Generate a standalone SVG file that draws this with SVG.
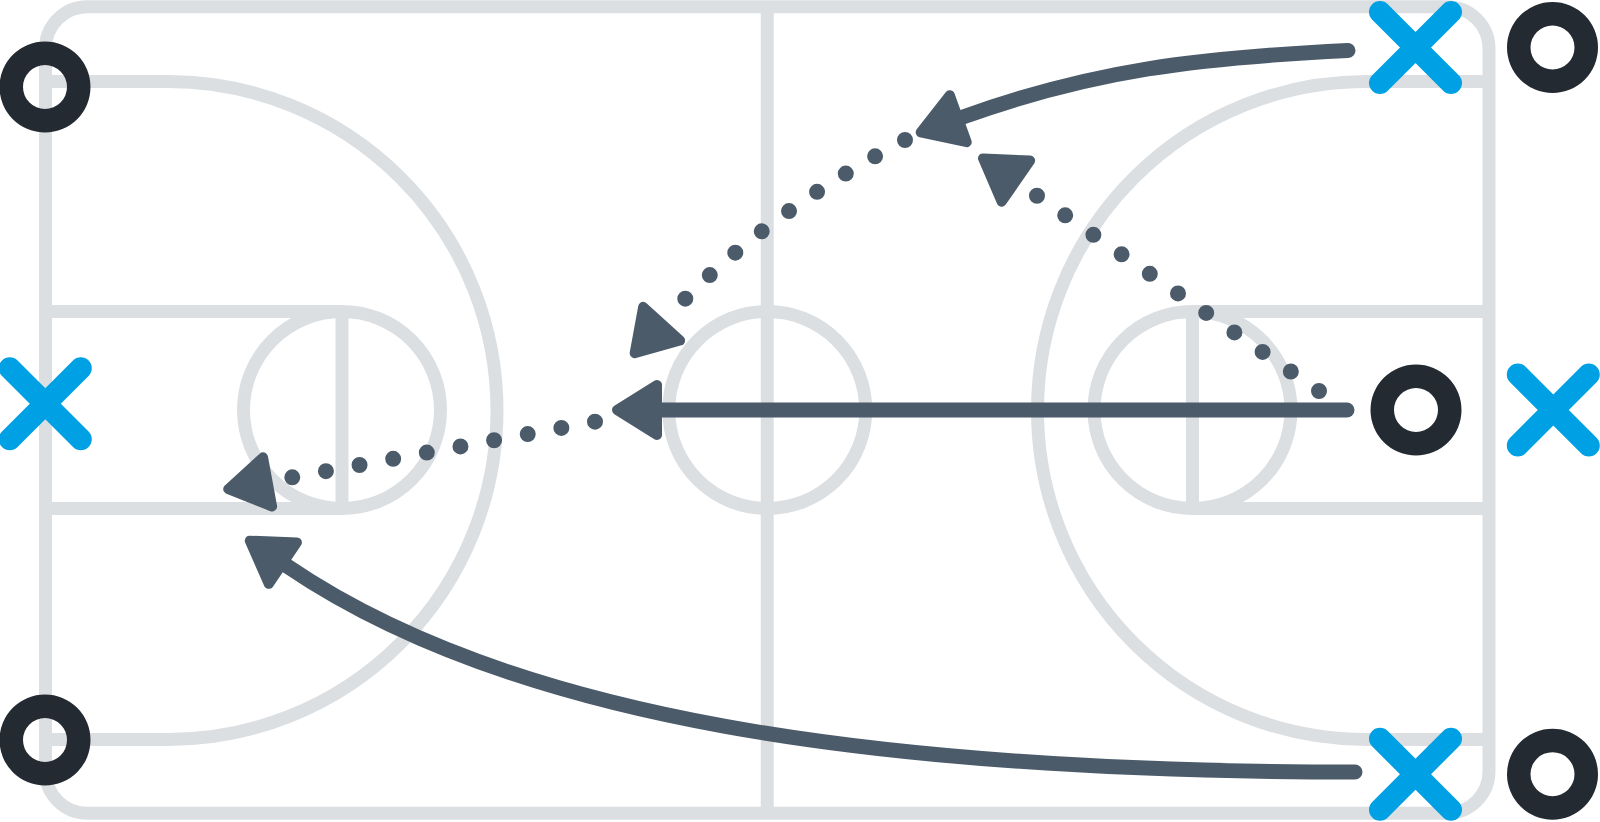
<svg xmlns="http://www.w3.org/2000/svg" width="1600" height="822" viewBox="0 0 1600 822">
<style>
.court{fill:none;stroke:#DCDFE2;stroke-width:13;}
.o{fill:#232A32;fill-rule:evenodd;stroke:none;}
.x{fill:none;stroke:#00A0E4;stroke-width:22;stroke-linecap:round;}
.run{fill:none;stroke:#4B5B6A;stroke-width:15;stroke-linecap:round;marker-end:url(#ah);}
.pass{fill:none;stroke:#4B5B6A;stroke-width:16;stroke-linecap:round;stroke-dasharray:0 34.2;marker-end:url(#ah);}
</style>
<defs>
<marker id="ah" markerUnits="userSpaceOnUse" orient="auto" markerWidth="80" markerHeight="80" viewBox="-10 -40 80 80" refX="0" refY="0" overflow="visible">
<path d="M5,-25 L45,0 L5,25 Z" fill="#4B5B6A" stroke="#4B5B6A" stroke-width="10" stroke-linejoin="round"/>
</marker>
<path id="ring" d="M-45.5,0 A45.5,45.5 0 1 0 45.5,0 A45.5,45.5 0 1 0 -45.5,0 Z M-22,0 A22,22 0 1 0 22,0 A22,22 0 1 0 -22,0 Z"/>
</defs>
<rect width="1600" height="822" fill="#FFFFFF"/>
<g id="court" class="court">
<rect x="45.5" y="6.7" width="1443.5" height="806.6" rx="42"/>
<line x1="767.25" y1="6.7" x2="767.25" y2="813.3"/>
<circle cx="767.25" cy="410" r="98.5"/>
<path d="M45.5,81.5 H168 A329,329 0 0 1 168,739.5 H45.5"/>
<path d="M45.5,311.5 H342 M45.5,508.5 H342 M342,311.5 V508.5"/>
<circle cx="342" cy="410" r="98.5"/>
<path d="M1489,81.5 H1366.5 A329,329 0 0 0 1366.5,739.5 H1489"/>
<path d="M1489,311.5 H1192.5 M1489,508.5 H1192.5 M1192.5,311.5 V508.5"/>
<circle cx="1192.5" cy="410" r="98.5"/>
</g>
<g id="connectors">
<path class="run" d="M1347,410 H662"/>
<path class="run" d="M1348,50.5 C1198,57.7 1093,70.2 963,117"/>
<path class="run" d="M1355,772 C875,772 512,719 287,566"/>
<path class="pass" style="stroke-dasharray:0 34.3" d="M1319,391 L1020,184"/>
<path class="pass" d="M595,421.7 L272.5,481"/>
<path class="pass" style="stroke-dasharray:0 34" d="M905,140 Q759,217 665,320"/>
</g>
<g id="o-top-left"><use href="#ring" class="o" x="45" y="87"/></g>
<g id="o-top-right"><use href="#ring" class="o" x="1552.5" y="47.5"/></g>
<g id="o-right"><use href="#ring" class="o" x="1416" y="410"/></g>
<g id="o-bottom-left"><use href="#ring" class="o" x="45" y="740"/></g>
<g id="o-bottom-right"><use href="#ring" class="o" x="1552.5" y="774.2"/></g>
<g id="x-top-right" class="x"><path d="M1380,12 L1451,83 M1451,12 L1380,83"/></g>
<g id="x-right" class="x"><path d="M1517.8,374.5 L1588.8,445.5 M1588.8,374.5 L1517.8,445.5"/></g>
<g id="x-left" class="x"><path d="M9.8,368.2 L80.8,439.2 M80.8,368.2 L9.8,439.2"/></g>
<g id="x-bottom-right" class="x"><path d="M1380,738.7 L1451,809.7 M1451,738.7 L1380,809.7"/></g>
</svg>
